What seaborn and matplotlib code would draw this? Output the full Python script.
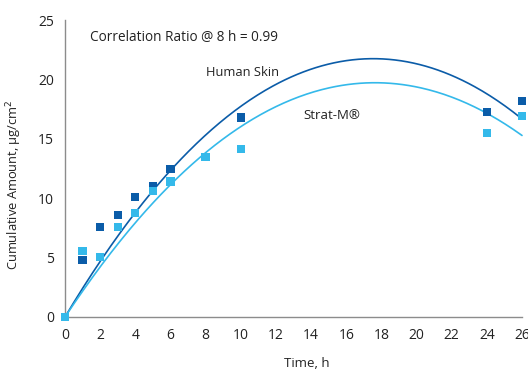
import numpy as np
import pandas as pd
import matplotlib
matplotlib.use("Agg")
import matplotlib.pyplot as plt
import seaborn as sns

# ---- data ----
time_h = [0, 1, 2, 3, 4, 5, 6, 8, 10, 24, 26]
human_skin = [0, 4.8, 7.6, 8.6, 10.1, 11.0, 12.45, 13.45, 16.8, 17.25, 18.2]
strat_m = [0, 5.55, 5.05, 7.6, 8.75, 10.6, 11.4, 13.45, 14.15, 15.5, 16.9]
x_ticks = list(range(0, 27, 2))
y_ticks = [0, 5, 10, 15, 20, 25]

dark_blue = "#0B5CA8"
light_blue = "#34B9EA"

sns.set_style("white")
plt.rcParams["font.family"] = ["Open Sans", "DejaVu Sans"]

fig = plt.figure(figsize=(5.28, 3.71), dpi=100)
ax = fig.add_axes([65 / 528, 1 - 317 / 371, (522 - 65) / 528, (317 - 20) / 371])


def fit_through_origin(t, y):
    t = np.asarray(t, float)
    A = np.column_stack([t, t ** 2])
    coef, *_ = np.linalg.lstsq(A, np.asarray(y, float), rcond=None)
    return coef


grid = np.linspace(0, 26, 300)
curves = []
for name, vals in (("Human Skin", human_skin), ("Strat-M", strat_m)):
    a, b = fit_through_origin(time_h, vals)
    curves.append(pd.DataFrame({"t": grid, "y": a * grid + b * grid ** 2, "s": name}))
curve_df = pd.concat(curves)

sns.lineplot(data=curve_df, x="t", y="y", hue="s",
             palette={"Human Skin": dark_blue, "Strat-M": light_blue},
             linewidth=1.2, legend=False, ax=ax, clip_on=False)

pts = pd.concat([
    pd.DataFrame({"t": time_h, "y": human_skin, "s": "Human Skin"}),
    pd.DataFrame({"t": time_h, "y": strat_m, "s": "Strat-M"}),
])
sns.scatterplot(data=pts, x="t", y="y", hue="s",
                palette={"Human Skin": dark_blue, "Strat-M": light_blue},
                marker="s", s=36, linewidth=0, legend=False, ax=ax,
                clip_on=False, zorder=3)

ax.set_xlim(0, 26)
ax.set_ylim(0, 25)
ax.set_xticks(x_ticks)
ax.set_yticks(y_ticks)
for side in ("top", "right"):
    ax.spines[side].set_visible(False)
for side in ("left", "bottom"):
    ax.spines[side].set_color("#8c8c8c")
    ax.spines[side].set_linewidth(1.0)
ax.tick_params(axis="x", direction="in", length=3, color="#b0b0b0",
               labelsize=10, labelcolor="#222222", pad=8)
ax.tick_params(axis="y", direction="out", length=4, color="#8c8c8c",
               labelsize=10, labelcolor="#222222", pad=4)
ax.set_xlabel("Time, h", fontsize=9.5, color="#222222")
ax.xaxis.set_label_coords(0.53, -0.135)
ax.set_ylabel("Cumulative Amount, μg/cm$^2$", fontsize=9.3, color="#222222")
ax.yaxis.set_label_coords(-0.09, 0.445)

ax.text(1.45, 23.5, "Correlation Ratio @ 8 h = 0.99", fontsize=9.8,
        color="#222222", va="center", ha="left")
ax.text(8.0, 20.6, "Human Skin", fontsize=9.3, color="#222222", va="center", ha="left")
ax.text(13.55, 17.0, "Strat-M®", fontsize=9.5, color="#222222", va="center", ha="left")

fig.savefig("out.png", dpi=100)
